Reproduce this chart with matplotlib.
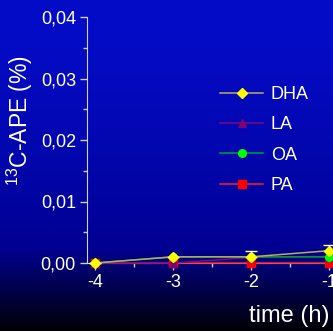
import numpy as np
import matplotlib
matplotlib.use("Agg")
import matplotlib.pyplot as plt
from matplotlib.ticker import MultipleLocator, FixedLocator

plt.rcParams['font.family'] = ['Liberation Sans', 'DejaVu Sans']
plt.rcParams['mathtext.fontset'] = 'custom'
plt.rcParams['mathtext.rm'] = 'Liberation Sans'
plt.rcParams['mathtext.default'] = 'regular'

time_h = [-4, -3, -2, -1]
dha = [0.0, 0.001, 0.001, 0.002]
dha_err = [0.0, 0.0, 0.001, 0.0009]
la = [0.0, 0.0, 0.0009, 0.001]
oa = [0.0, 0.001, 0.001, 0.001]
pa = [0.0, 0.0, 0.0, 0.0]
yticks = [0.0, 0.01, 0.02, 0.03, 0.04]
ytick_labels = ['0,00', '0,01', '0,02', '0,03', '0,04']
xticks = [-4, -3, -2, -1]

W, H = 333, 331
fig = plt.figure(figsize=(W / 100, H / 100), dpi=100)

# gradient background
bg = fig.add_axes([0, 0, 1, 1], zorder=-10)
bg.axis('off')
yy = np.linspace(0, 1, 256)
top = np.array([5, 12, 200]) / 255
mid = np.array([0, 0, 145]) / 255
bot = np.array([0, 0, 5]) / 255
cols = np.zeros((256, 1, 3))
for i, t in enumerate(yy):
    if t < 0.75:
        c = top + (mid - top) * (t / 0.75) ** 1.5
    else:
        c = mid + (bot - mid) * ((t - 0.75) / 0.25)
    cols[i, 0] = c
bg.imshow(cols, aspect='auto', extent=[0, 1, 0, 1])
bg.set_xlim(0, 1); bg.set_ylim(0, 1)

left_px, bottom_px, top_px = 87, 263, 17
ax = fig.add_axes([left_px / W, 1 - bottom_px / H, 1 - left_px / W, (bottom_px - top_px) / H])
ax.patch.set_alpha(0)
px_per_unit = 78.0
x0 = -4 - (95 - left_px) / px_per_unit
x1 = -4 + (W - 95) / px_per_unit
ax.set_xlim(x0, x1)
ax.set_ylim(0, 0.04)

ax.plot(time_h, pa, color='#ff1a2a', lw=1.1, marker='s', ms=5.5, mfc='#ff0000', mec='#ff0000', label='PA', clip_on=False, zorder=3)
ax.plot(time_h, la, color='#7a0a80', lw=1.1, marker='^', ms=5.5, mfc='#800070', mec='#800070', label='LA', clip_on=False, zorder=4)
ax.plot(time_h, oa, color='#00a030', lw=1.1, marker='o', ms=5.5, mfc='#00ff00', mec='#00ff00', label='OA', clip_on=False, zorder=5)
ax.errorbar(time_h, dha, yerr=[[0]*4, dha_err], fmt='none', ecolor='white', elinewidth=1, capsize=4, clip_on=False, zorder=5)
ax.plot(time_h, dha, color=(0.72, 0.68, 0.38), lw=1.1, marker='D', ms=5, mfc='#ffff00', mec='#ffff00', label='DHA', clip_on=False, zorder=6)

for s in ['top', 'right']:
    ax.spines[s].set_visible(False)
ax.spines['left'].set_color('#d0d0e0')
ax.spines['bottom'].set_color('#d0d0e0')
ax.set_yticks(yticks)
ax.set_yticklabels(ytick_labels)
ax.yaxis.set_minor_locator(MultipleLocator(0.005))
ax.set_xticks(xticks)
ax.set_xticklabels([str(v) for v in xticks])
ax.xaxis.set_minor_locator(FixedLocator([-3.5, -2.5, -1.5]))
ax.tick_params(which='both', direction='out', colors='#d0d0e0', labelcolor='white', labelsize=13)
ax.tick_params(which='major', length=5, width=1, pad=3)
ax.tick_params(which='minor', length=3, width=1)

ax.set_ylabel('$^{13}$C-APE (%)', color='white', fontsize=16.5)
ax.yaxis.set_label_coords(-0.211, 0.581)
ax.set_xlabel('time (h)', color='white', fontsize=17)
ax.xaxis.set_label_coords(0.821, -0.17)

h, l = ax.get_legend_handles_labels()
order = ['DHA', 'LA', 'OA', 'PA']
hh = [h[l.index(o)] for o in order]
leg = ax.legend(hh, order, loc='upper left', bbox_to_anchor=(0.541, 0.72), frameon=False,
                fontsize=13, labelcolor='white', handlelength=2.4, labelspacing=0.74,
                handletextpad=0.4, borderpad=0, borderaxespad=0)

fig.savefig('out.png', dpi=100)
